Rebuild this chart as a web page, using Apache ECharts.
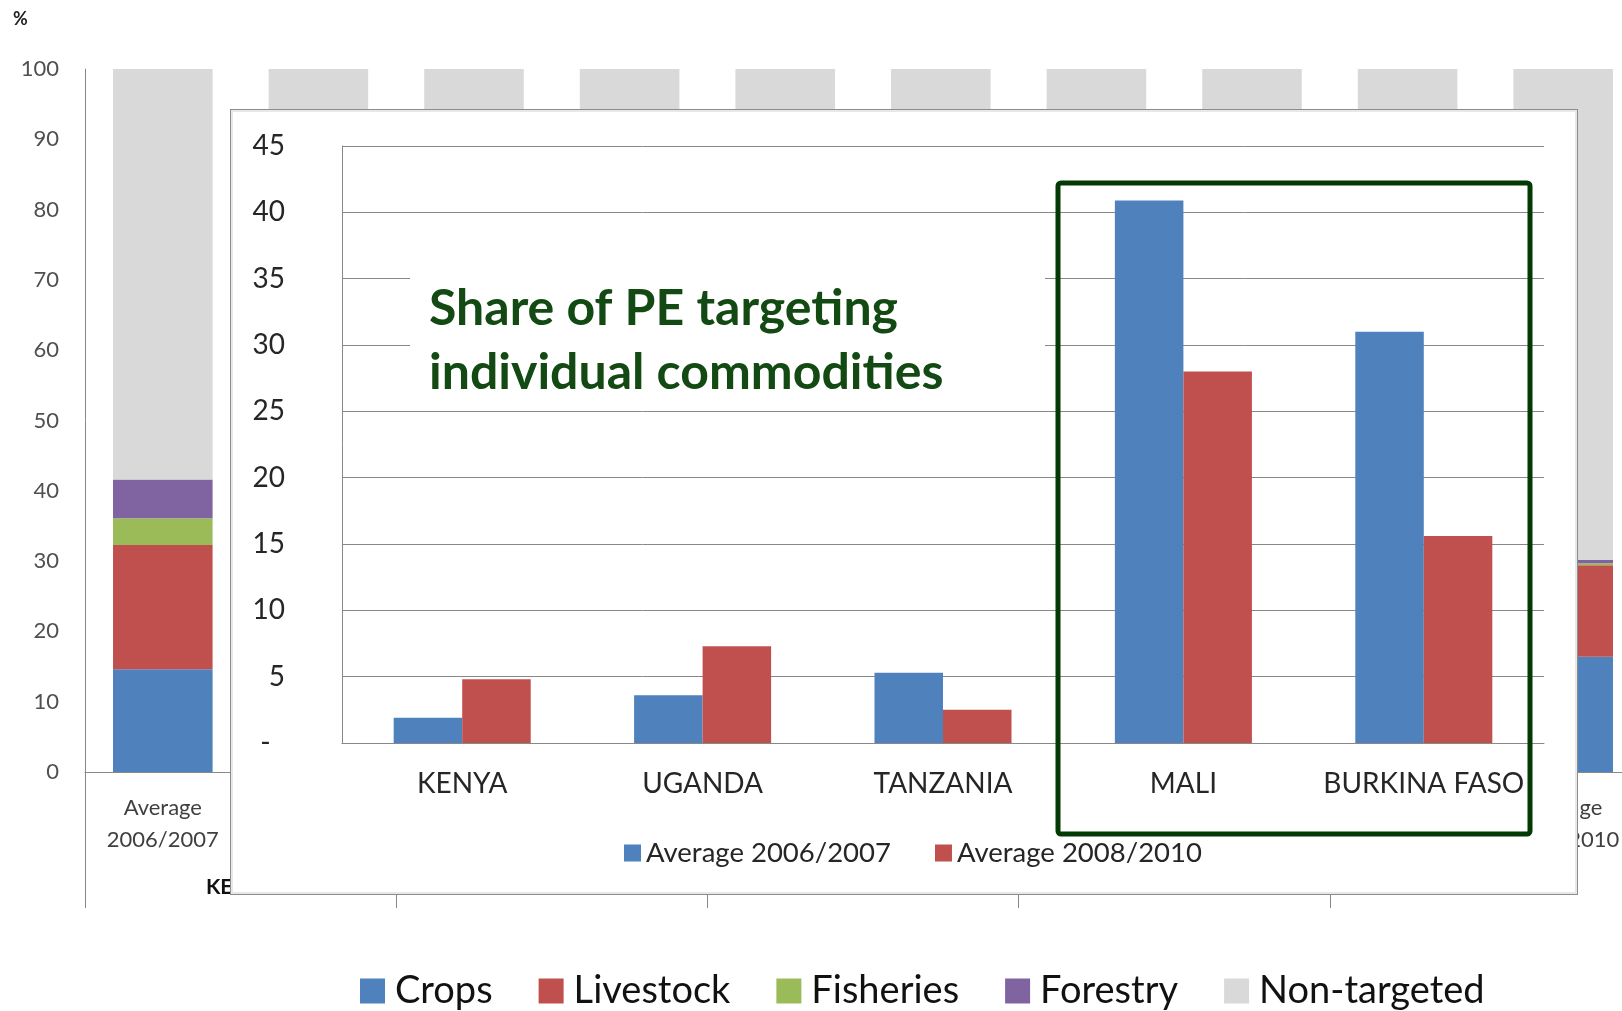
<!DOCTYPE html>
<html>
<head>
<meta charset="utf-8">
<title>PE targeting</title>
<script src="https://cdn.jsdelivr.net/npm/echarts/dist/echarts.min.js"></script>
<style>
  html, body { margin: 0; padding: 0; background: #fff; }
  #main { position: absolute; left: 0; top: 0; width: 1622px; height: 1011px; }
  #inset { position: absolute; left: 230px; top: 109px; width: 1346px; height: 784px;
           background: #fff; border: 1px solid #8c8c8c; box-shadow: inset 0 0 0 2px #e8e8e8; }
</style>
</head>
<body>
<div id="main"></div>
<div id="inset"></div>
<script>
  // 背景堆叠柱形图数据 (被插图遮住的部分无法读取, 用 null)
  var countries = ['KENYA', 'UGANDA', 'TANZANIA', 'MALI', 'BURKINA FASO'];
  var periods = ['2006/2007', '2008/2010'];
  var segNames = ['Crops', 'Livestock', 'Fisheries', 'Forestry', 'Non-targeted'];
  var segColors = ['#4f81bd', '#c0504d', '#9bbb59', '#8064a2', '#d9d9d9'];
  var crops       = [14.6, null, null, null, null, null, null, null, null, 16.4];
  var livestock   = [17.7, null, null, null, null, null, null, null, null, 13.0];
  var fisheries   = [3.8,  null, null, null, null, null, null, null, null, 0.3];
  var forestry    = [5.5,  null, null, null, null, null, null, null, null, 0.5];
  var nonTargeted = [58.4, 100, 100, 100, 100, 100, 100, 100, 100, 69.8];
  var yTicksBg = { min: 0, max: 100, step: 10 };

  // 插图数据
  var insetNames = ['Average 2006/2007', 'Average 2008/2010'];
  var avg0607 = [1.9, 3.6, 5.3, 40.9, 31.0];
  var avg0810 = [4.8, 7.3, 2.5, 28.0, 15.6];
  var yTicksInset = { min: 0, max: 45, step: 5 };

  var barKeys = [];
  countries.forEach(function (c) {
    periods.forEach(function (p) { barKeys.push(c + '|' + p); });
  });
  var segData = [crops, livestock, fisheries, forestry, nonTargeted];

  var bg = echarts.init(document.getElementById('main'));
  bg.setOption({
    animation: false,
    textStyle: { fontFamily: 'Lato, sans-serif' },
    graphic: [{
      type: 'text', left: 13, top: 10,
      style: { text: '%', fontSize: 18, fontWeight: 'bold', fontFamily: 'Lato', fill: '#222' }
    }],
    legend: {
      data: segNames, left: 355, top: 967, icon: 'rect',
      itemWidth: 25, itemHeight: 25, itemGap: 46,
      textStyle: { fontSize: 38, color: '#111', padding: [0, 0, 0, 5] }
    },
    grid: { left: 85, top: 69, width: 1556, height: 703, outerBoundsMode: 'none' },
    xAxis: [{
      type: 'category', data: barKeys,
      axisLine: { lineStyle: { color: '#888' } },
      axisTick: { show: false },
      axisLabel: {
        interval: 0, fontSize: 22, color: '#404040', lineHeight: 32, margin: 20,
        formatter: function (v) { return 'Average\n' + v.split('|')[1]; }
      }
    }, {
      type: 'category', data: countries, position: 'bottom', offset: 0,
      axisLine: { show: false },
      axisTick: { show: true, interval: 0, length: 136, lineStyle: { color: '#888' } },
      axisLabel: { interval: 0, fontSize: 21, fontWeight: 'bold', color: '#111', margin: 105 }
    }],
    yAxis: {
      type: 'value', min: yTicksBg.min, max: yTicksBg.max, interval: yTicksBg.step,
      axisLine: { show: true, lineStyle: { color: '#888' } },
      axisTick: { show: false },
      splitLine: { show: false },
      axisLabel: { fontSize: 22, color: '#505050', margin: 26 }
    },
    series: segNames.map(function (n, i) {
      return {
        name: n, type: 'bar', stack: 'all', data: segData[i],
        barCategoryGap: '36%', itemStyle: { color: segColors[i] }
      };
    })
  });

  var ins = echarts.init(document.getElementById('inset'));
  ins.setOption({
    animation: false,
    textStyle: { fontFamily: 'Lato, sans-serif' },
    grid: { left: 111, top: 36, width: 1202, height: 597, outerBoundsMode: 'none' },
    legend: {
      data: insetNames, left: 388, top: 724, icon: 'rect',
      itemWidth: 17, itemHeight: 17, itemGap: 44,
      textStyle: { fontSize: 27.5, color: '#262626' }
    },
    xAxis: {
      type: 'category', data: countries,
      axisLine: { lineStyle: { color: '#888' } },
      axisTick: { show: false },
      axisLabel: { interval: 0, fontSize: 28, color: '#262626', margin: 27 }
    },
    yAxis: {
      type: 'value', min: yTicksInset.min, max: yTicksInset.max, interval: yTicksInset.step,
      axisLine: { show: true, lineStyle: { color: '#888' } },
      axisTick: { show: false },
      splitLine: { lineStyle: { color: '#888' } },
      axisLabel: {
        fontSize: 28, color: '#262626', margin: 57,
        formatter: function (v) { return v === 0 ? '-  ' : v; }
      }
    },
    series: [{
      name: insetNames[0], type: 'bar', data: avg0607,
      barGap: '0%', barCategoryGap: '43%', itemStyle: { color: '#4f81bd' }
    }, {
      name: insetNames[1], type: 'bar', data: avg0810,
      barGap: '0%', barCategoryGap: '43%', itemStyle: { color: '#c0504d' }
    }],
    graphic: [
      // 标题文本框 (白底盖住网格线)
      { type: 'rect', z: 100, shape: { x: 179, y: 158, width: 635, height: 130 }, style: { fill: '#fff' } },
      {
        type: 'text', z: 101, x: 198, y: 167,
        style: {
          text: 'Share of PE targeting\nindividual commodities',
          fontSize: 50, fontWeight: 'bold', fontFamily: 'Lato', lineHeight: 64, fill: '#134a13'
        }
      },
      // 绿色框
      {
        type: 'rect', z: 102, shape: { x: 827, y: 73, width: 472, height: 651, r: 3 },
        style: { fill: 'none', stroke: '#033a03', lineWidth: 5 }
      }
    ]
  });
</script>
</body>
</html>
